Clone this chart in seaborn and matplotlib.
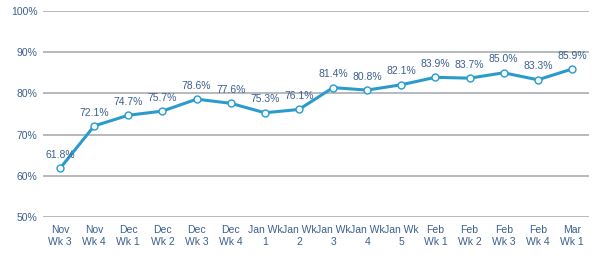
import numpy as np
import pandas as pd
import seaborn as sns
import matplotlib.pyplot as plt
from matplotlib.ticker import FuncFormatter

weeks = ["Nov\nWk 3", "Nov\nWk 4", "Dec\nWk 1", "Dec\nWk 2", "Dec\nWk 3", "Dec\nWk 4",
         "Jan Wk\n1", "Jan Wk\n2", "Jan Wk\n3", "Jan Wk\n4", "Jan Wk\n5",
         "Feb\nWk 1", "Feb\nWk 2", "Feb\nWk 3", "Feb\nWk 4", "Mar\nWk 1"]
rates = [61.8, 72.1, 74.7, 75.7, 78.6, 77.6, 75.3, 76.1, 81.4, 80.8, 82.1,
         83.9, 83.7, 85.0, 83.3, 85.9]

df = pd.DataFrame({"week": weeks, "rate": rates})
df["pos"] = np.arange(len(df))

sns.set_style("white")
plt.rcParams["font.family"] = ["Liberation Sans", "DejaVu Sans"]

text_col = "#3b5f8f"
line_col = "#2b9bcc"

fig = plt.figure(figsize=(6.0, 2.57), dpi=100)
ax = fig.add_axes([43 / 600, 1 - 217 / 257, 546 / 600, 206 / 257])

sns.lineplot(data=df, x="pos", y="rate", ax=ax, color=line_col, linewidth=2.2,
             marker="o", markersize=5, markerfacecolor="#f4fbfe",
             markeredgecolor=line_col, markeredgewidth=1.0, zorder=3)

for _, r in df.iterrows():
    ax.annotate(f"{r['rate']:.1f}%", (r["pos"], r["rate"]), xytext=(0, 6),
                textcoords="offset points", ha="center", va="bottom",
                fontsize=7.5, color=text_col)

ax.set_xlim(-0.5, len(df) - 0.5)
ax.set_ylim(50, 100)
ax.set_yticks(np.arange(50, 101, 10))
ax.yaxis.set_major_formatter(FuncFormatter(lambda v, p: f"{v:.0f}%"))
ax.set_xticks(df["pos"])
ax.set_xticklabels(weeks)
ax.grid(axis="y", color="#b0b3b8", linewidth=1.3)
ax.set_axisbelow(True)
for s in ax.spines.values():
    s.set_visible(False)
ax.tick_params(axis="both", length=0, labelsize=7.5, labelcolor=text_col)
ax.tick_params(axis="y", pad=4)
ax.tick_params(axis="x", pad=6)
ax.set_xlabel("")
ax.set_ylabel("")

fig.savefig("out.png", dpi=100)
